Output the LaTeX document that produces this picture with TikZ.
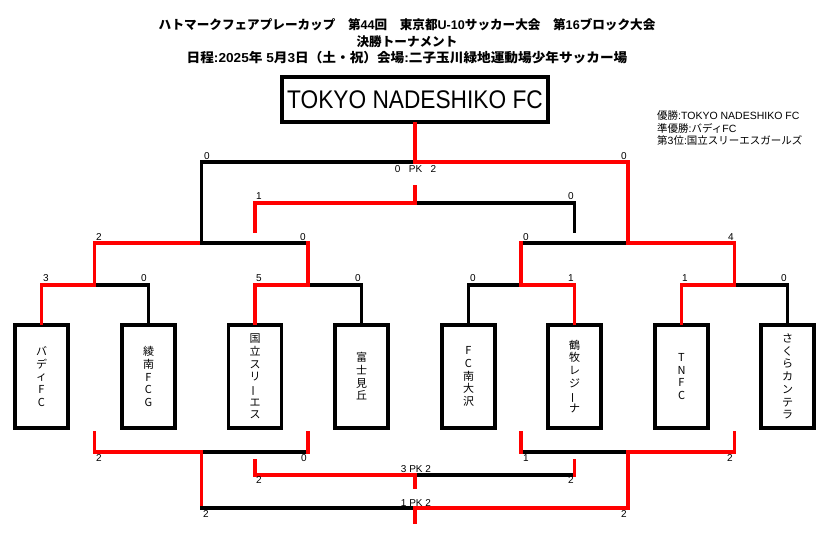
\documentclass[tikz,border=0pt]{standalone}
\usepackage{fontspec}
\usepackage{graphicx}
\setmainfont{Liberation Sans}
\newfontfamily\jp{Noto Sans CJK JP}
\newcommand{\jpvbar}{\rotatebox[origin=c]{90}{ー}}
\tikzset{
  rl/.style={draw={rgb,255:red,255;green,0;blue,0}, line width=3.5pt, line cap=rect},
  bl/.style={draw=black, line width=3.5pt, line cap=rect},
  team/.style={draw, line width=3.8pt, minimum width=53pt, minimum height=103pt,
    inner sep=0pt, align=center, font=\jp\fontsize{11}{12.7}\selectfont},
  sc/.style={font=\fontsize{10}{12}\selectfont, inner sep=0pt},
  ttl/.style={font=\bfseries\fontsize{12.6}{14}\selectfont, inner sep=0pt},
  res/.style={font=\fontsize{10.5}{12}\selectfont, inner sep=0pt, anchor=west},
}
\begin{document}
\begin{tikzpicture}[x=1pt,y=-1pt]
\useasboundingbox[fill=white] (0,0) rectangle (834,552);

% titles
\node[ttl] (ti1) at (407,25) {{\jp ハトマークフェアプレーカップ　第}44{\jp 回　東京都}U-10{\jp サッカー大会　第}16{\jp ブロック大会}};
\node[ttl] (ti2) at (407,42) {\jp 決勝トーナメント};
\node[ttl, font=\bfseries\fontsize{13}{14}\selectfont] (ti3) at (407,58) {\scalebox{1.05}[1]{{\jp 日程}:2025{\jp 年} 5{\jp 月}3{\jp 日（土・祝）会場}:{\jp 二子玉川緑地運動場少年サッカー場}}};

% champion
\node[draw, line width=4pt, minimum width=266pt, minimum height=45pt, inner sep=0pt,
  font=\fontsize{25.5}{28}\selectfont] (champ) at (415,99.5) {\scalebox{0.89}[1]{TOKYO NADESHIKO FC}};

% results
\node[res] (r1) at (657,116) {{\jp 優勝}:TOKYO NADESHIKO FC};
\node[res] (r2) at (657,128) {{\jp 準優勝}:{\jp バディ}FC};
\node[res] (r3) at (657,140) {{\jp 第}3{\jp 位}:{\jp 国立スリーエスガールズ}};

% teams
\node[team] (t1) at (41.5,376.5) {バ\\デ\\ィ\\F\\C};
\node[team] (t2) at (148.5,376.5) {綾\\南\\F\\C\\G};
\node[team] (t3) at (255,376.5) {国\\立\\ス\\リ\\\jpvbar\\エ\\ス};
\node[team] (t4) at (361.5,376.5) {富\\士\\見\\丘};
\node[team] (t5) at (468.5,376.5) {F\\C\\南\\大\\沢};
\node[team] (t6) at (574.5,376.5) {鶴\\牧\\レ\\ジ\\\jpvbar\\ナ};
\node[team] (t7) at (681.5,376.5) {T\\N\\F\\C};
\node[team] (t8) at (787.5,376.5) {さ\\く\\ら\\カ\\ン\\テ\\ラ};

% top bracket coordinates
\coordinate (qa) at (94.5,285);
\coordinate (qb) at (308,285);
\coordinate (qc) at (521,285);
\coordinate (qd) at (734.5,285);
\coordinate (sa) at (201.5,243);
\coordinate (sb) at (628,243);
\coordinate (fc) at (415,162);
\coordinate (tl) at (255,231);
\coordinate (tr) at (574.5,231);
\coordinate (tc) at (415,203);
\coordinate (tcu) at (415,187);

% quarter finals
\draw[rl] (t1.north) |- (qa);
\draw[bl] (t2.north) |- (qa);
\draw[rl] (t3.north) |- (qb);
\draw[bl] (t4.north) |- (qb);
\draw[bl] (t5.north) |- (qc);
\draw[rl] (t6.north) |- (qc);
\draw[rl] (t7.north) |- (qd);
\draw[bl] (t8.north) |- (qd);
% semi finals
\draw[rl] (qa) |- (sa);
\draw[bl] (sa) -- (sa -| qb);
\draw[rl] (qb) -- (sa -| qb);
\draw[bl] (sb -| qc) -- (sb);
\draw[rl] (qc) -- (sb -| qc);
\draw[rl] (qd) |- (sb);
% final
\draw[bl] (sa) |- (fc);
\draw[rl] (sb) |- (fc);
\draw[rl] (fc) -- (champ.south);
% third place
\draw[rl] (tl) |- (tc);
\draw[bl] (tr) |- (tc);
\draw[rl] (tcu) -- (tc);

% bottom bracket coordinates
\coordinate (ba1) at (94.5,433);
\coordinate (ba2) at (308,433);
\coordinate (bb1) at (521,433);
\coordinate (bb2) at (734.5,433);
\coordinate (ba) at (201.5,452);
\coordinate (bb) at (628,452);
\coordinate (bf) at (415,508);
\coordinate (bfd) at (415,522);
\coordinate (bt1) at (255,461);
\coordinate (bt2) at (574.5,461);
\coordinate (bt) at (415,475);
\coordinate (btd) at (415,487);

\draw[rl] (ba1) |- (ba);
\draw[bl] (ba) -- (ba -| ba2);
\draw[rl] (ba2) -- (ba -| ba2);
\draw[bl] (bb1 |- bb) -- (bb);
\draw[rl] (bb1) -- (bb1 |- bb);
\draw[rl] (bb2) |- (bb);
\draw[rl] (ba) -- (ba |- bf);
\draw[bl] (ba |- bf) -- (bf);
\draw[rl] (bb) |- (bf);
\draw[rl] (bf) -- (bfd);
\draw[rl] (bt1) |- (bt);
\draw[bl] (bt) -- (bt -| bt2);
\draw[rl] (bt2) -- (bt -| bt2);
\draw[rl] (bt) -- (btd);

% scores top
\node[sc] (s1) at (46,278) {3};
\node[sc] (s2) at (144,278) {0};
\node[sc] (s3) at (259,278) {5};
\node[sc] (s4) at (358,278) {0};
\node[sc] (s5) at (473,278) {0};
\node[sc] (s6) at (571,278) {1};
\node[sc] (s7) at (685,278) {1};
\node[sc] (s8) at (784,278) {0};
\node[sc] (s9) at (99,237) {2};
\node[sc] (s10) at (303,237) {0};
\node[sc] (s11) at (526,237) {0};
\node[sc] (s12) at (731,237) {4};
\node[sc] (s13) at (207,156) {0};
\node[sc] (s14) at (624,156) {0};
\node[sc] (s15) at (415.5,169) {0\ \ \ PK\ \ \ 2};
\node[sc] (s16) at (259,196) {1};
\node[sc] (s17) at (571,196) {0};
% scores bottom
\node[sc] (b1) at (99,458) {2};
\node[sc] (b2) at (304,458) {0};
\node[sc] (b3) at (526,458) {1};
\node[sc] (b4) at (730,458) {2};
\node[sc] (b5) at (259,480) {2};
\node[sc] (b6) at (571,480) {2};
\node[sc] (b7) at (416,469) {3 PK 2};
\node[sc] (b8) at (206,514) {2};
\node[sc] (b9) at (624,514) {2};
\node[sc] (b10) at (416,503) {1 PK 2};
\end{tikzpicture}
\end{document}
